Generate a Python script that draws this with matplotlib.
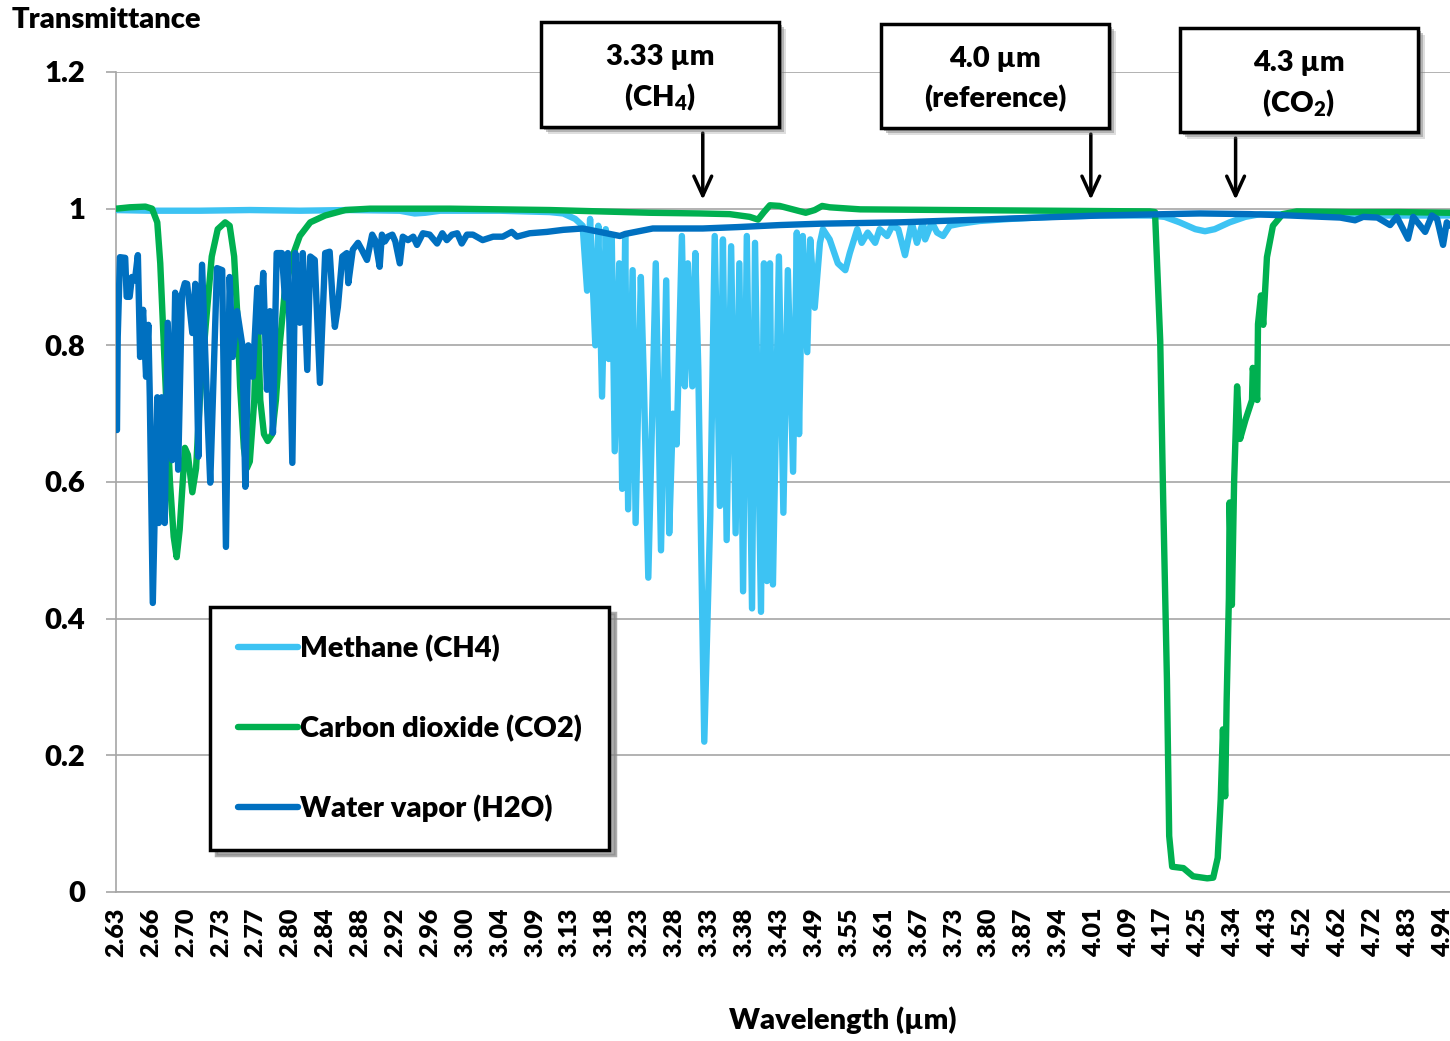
import numpy as np
import matplotlib
matplotlib.use("Agg")
import matplotlib.pyplot as plt
from matplotlib.patches import Rectangle
from matplotlib.font_manager import FontProperties

plt.rcParams['font.family'] = ['Lato', 'DejaVu Sans']
plt.rcParams['font.weight'] = 'heavy'

# ---------------- data ----------------
# x positions are wavenumbers (cm^-1); the category axis is uniform in wavenumber
tick_labels = ['2.63', '2.66', '2.70', '2.73', '2.77', '2.80', '2.84', '2.88', '2.92', '2.96',
               '3.00', '3.04', '3.09', '3.13', '3.18', '3.23', '3.28', '3.33', '3.38', '3.43',
               '3.49', '3.55', '3.61', '3.67', '3.73', '3.80', '3.87', '3.94', '4.01', '4.09',
               '4.17', '4.25', '4.34', '4.43', '4.52', '4.62', '4.72', '4.83', '4.94']
tick_wn_first = 3802.3
tick_wn_last = 2024.3
x_end_wn = 2014.7

ytick_values = [0, 0.2, 0.4, 0.6, 0.8, 1.0, 1.2]
ytick_labels = ['0', '0.2', '0.4', '0.6', '0.8', '1', '1.2']

methane_wn = [3802, 3757, 3690, 3623, 3556, 3489, 3422, 3402, 3388, 3368, 3288, 3221, 3203, 3187,
              3177, 3171, 3167, 3160, 3156, 3151, 3146, 3142, 3138, 3134, 3128, 3124, 3120, 3116,
              3110, 3106, 3099, 3095, 3089, 3079, 3072, 3065, 3061, 3056, 3051, 3044, 3040, 3036,
              3030, 3026, 3022, 3014, 3006, 3000, 2993, 2989, 2984, 2978, 2972, 2967, 2962, 2957,
              2950, 2946, 2938, 2934, 2930, 2926, 2922, 2914, 2908, 2902, 2895, 2890, 2887, 2882,
              2876, 2872, 2866, 2859, 2855, 2846, 2835, 2825, 2819, 2809, 2803, 2795, 2785, 2779,
              2769, 2762, 2754, 2745, 2736, 2729, 2721, 2718, 2709, 2702, 2694, 2685, 2671, 2645,
              2604, 2551, 2484, 2417, 2397, 2377, 2356, 2343, 2330, 2310, 2289, 2269, 2216, 2149,
              2082, 2015]
methane_t = [0.998, 0.997, 0.997, 0.998, 0.997, 0.998, 0.997, 0.993, 0.994, 0.997, 0.997, 0.995, 0.993, 0.985,
             0.975, 0.88, 0.985, 0.80, 0.975, 0.725, 0.97, 0.78, 0.96, 0.645, 0.92, 0.59, 0.96, 0.56,
             0.91, 0.54, 0.90, 0.75, 0.46, 0.92, 0.50, 0.895, 0.525, 0.70, 0.655, 0.96, 0.74, 0.92,
             0.74, 0.935, 0.765, 0.22, 0.55, 0.96, 0.565, 0.955, 0.515, 0.945, 0.525, 0.92, 0.44, 0.96,
             0.415, 0.95, 0.41, 0.92, 0.455, 0.92, 0.45, 0.93, 0.555, 0.91, 0.615, 0.965, 0.67, 0.96,
             0.79, 0.955, 0.855, 0.95, 0.97, 0.955, 0.92, 0.91, 0.935, 0.97, 0.95, 0.965, 0.95, 0.97,
             0.96, 0.975, 0.97, 0.932, 0.98, 0.95, 0.98, 0.955, 0.98, 0.965, 0.96, 0.975, 0.978, 0.982,
             0.985, 0.988, 0.99, 0.99, 0.988, 0.98, 0.97, 0.967, 0.97, 0.98, 0.988, 0.992, 0.992, 0.99,
             0.99, 0.99]

co2_wn = [3802, 3784, 3763, 3754, 3747, 3743, 3739, 3735, 3730, 3725, 3721, 3717, 3710, 3706,
          3700, 3695, 3690, 3682, 3674, 3666, 3656, 3650, 3644, 3640, 3636, 3631, 3627, 3623,
          3617, 3613, 3609, 3604, 3599, 3593, 3588, 3583, 3576, 3566, 3556, 3542, 3522, 3495,
          3462, 3355, 3221, 3154, 3087, 3020, 2980, 2953, 2942, 2934, 2926, 2913, 2892, 2878,
          2866, 2856, 2846, 2805, 2685, 2551, 2417, 2410, 2403, 2399, 2394, 2391, 2387, 2372,
          2359, 2340, 2332, 2326, 2322, 2319, 2316, 2314, 2311, 2310, 2307, 2304, 2300, 2296,
          2289, 2280, 2279, 2273, 2272, 2268, 2265, 2260, 2252, 2239, 2220, 2149, 2082, 2015]
co2_t = [1.0, 1.002, 1.003, 1.0, 0.98, 0.92, 0.82, 0.72, 0.60, 0.52, 0.49, 0.53, 0.65, 0.64,
         0.585, 0.62, 0.72, 0.83, 0.93, 0.97, 0.98, 0.975, 0.93, 0.85, 0.74, 0.65, 0.62, 0.63,
         0.72, 0.87, 0.72, 0.67, 0.66, 0.67, 0.72, 0.80, 0.88, 0.93, 0.96, 0.98, 0.99, 0.998,
         1.0, 1.0, 0.998, 0.996, 0.994, 0.993, 0.992, 0.988, 0.984, 0.995, 1.005, 1.004, 0.998, 0.994,
         0.998, 1.004, 1.002, 0.999, 0.998, 0.997, 0.996, 0.995, 0.806, 0.571, 0.31, 0.082, 0.037, 0.035,
         0.023, 0.02, 0.021, 0.05, 0.135, 0.238, 0.14, 0.28, 0.43, 0.57, 0.42, 0.60, 0.74, 0.663,
         0.69, 0.72, 0.767, 0.72, 0.831, 0.873, 0.83, 0.929, 0.975, 0.992, 0.996, 0.995, 0.995, 0.994]

water_wn = [3801, 3800, 3797, 3790, 3788, 3784, 3781, 3777, 3773, 3770, 3766, 3762, 3759, 3757,
            3753, 3747, 3745, 3741, 3737, 3733, 3727, 3723, 3719, 3714, 3710, 3707, 3700, 3696,
            3692, 3687, 3680, 3676, 3672, 3667, 3660, 3655, 3650, 3646, 3640, 3633, 3629, 3625,
            3619, 3613, 3609, 3605, 3600, 3596, 3592, 3587, 3580, 3576, 3572, 3566, 3562, 3556,
            3552, 3546, 3542, 3536, 3529, 3522, 3516, 3512, 3509, 3505, 3499, 3493, 3491, 3485,
            3478, 3473, 3466, 3459, 3455, 3449, 3446, 3442, 3438, 3432, 3428, 3422, 3418, 3411,
            3404, 3399, 3391, 3382, 3372, 3365, 3359, 3352, 3345, 3339, 3332, 3324, 3311, 3297,
            3284, 3272, 3265, 3248, 3225, 3203, 3177, 3154, 3127, 3120, 3083, 3016, 2970, 2913,
            2859, 2752, 2618, 2484, 2350, 2283, 2229, 2185, 2162, 2142, 2131, 2112, 2095, 2086,
            2071, 2064, 2048, 2039, 2032, 2024, 2019, 2015]
water_t = [0.676, 0.812, 0.929, 0.928, 0.871, 0.871, 0.90, 0.895, 0.932, 0.783, 0.852, 0.754, 0.83, 0.724,
           0.423, 0.724, 0.54, 0.724, 0.54, 0.833, 0.632, 0.877, 0.618, 0.875, 0.891, 0.89, 0.818, 0.89,
           0.637, 0.918, 0.705, 0.599, 0.739, 0.913, 0.91, 0.505, 0.90, 0.783, 0.85, 0.80, 0.593, 0.80,
           0.754, 0.884, 0.82, 0.906, 0.735, 0.85, 0.672, 0.935, 0.935, 0.87, 0.935, 0.628, 0.935, 0.833,
           0.935, 0.764, 0.93, 0.925, 0.745, 0.935, 0.937, 0.866, 0.827, 0.856, 0.93, 0.935, 0.891, 0.94,
           0.95, 0.94, 0.925, 0.962, 0.954, 0.915, 0.962, 0.952, 0.959, 0.962, 0.952, 0.92, 0.959, 0.954,
           0.959, 0.947, 0.964, 0.962, 0.949, 0.964, 0.954, 0.962, 0.964, 0.949, 0.962, 0.962, 0.954, 0.959,
           0.959, 0.966, 0.959, 0.964, 0.966, 0.969, 0.971, 0.966, 0.96, 0.963, 0.971, 0.971, 0.973, 0.976,
           0.978, 0.98, 0.985, 0.99, 0.993, 0.992, 0.99, 0.988, 0.987, 0.983, 0.988, 0.987, 0.976, 0.988,
           0.956, 0.988, 0.966, 0.99, 0.985, 0.947, 0.98, 0.975]

series_names = ['Methane (CH4)', 'Carbon dioxide (CO2)', 'Water vapor (H2O)']
series_colors = ['#3DC3F3', '#00B050', '#0070C0']

callout_titles = ['3.33 µm', '4.0 µm', '4.3 µm']
callout_subs = [r'$\mathregular{(CH_4)}$', '(reference)', r'$\mathregular{(CO_2)}$']
callout_target_wn = [3016, 2496, 2302]

assert len(methane_wn) == len(methane_t)
assert len(co2_wn) == len(co2_t)
assert len(water_wn) == len(water_t)

# ---------------- layout ----------------
W, H, DPI = 1450, 1041, 100
fig = plt.figure(figsize=(W / DPI, H / DPI), dpi=DPI)
fig.patch.set_facecolor('white')


def fx(px):
    return px / W


def fy(py):
    return 1 - py / H


ax = fig.add_axes([fx(116), fy(892), fx(1450) - fx(116), fy(72) - fy(892)])
grid_col = '#A6A6A6'

lw = 4.6
for wn, t, name, col in zip([methane_wn, co2_wn, water_wn], [methane_t, co2_t, water_t],
                            series_names, series_colors):
    ax.plot(wn, t, color=col, lw=lw, solid_joinstyle='round', solid_capstyle='round',
            label=name, zorder=3)

ax.set_xlim(tick_wn_first, x_end_wn)
ax.set_ylim(0, 1.2)

fam = ['Lato', 'DejaVu Sans']
tick_fp_x = FontProperties(family=fam, weight='heavy', size=18)
tick_fp_y = FontProperties(family=fam, weight='heavy', size=21)

tick_wn = np.linspace(tick_wn_first, tick_wn_last, len(tick_labels))
ax.set_xticks(tick_wn)
ax.set_xticklabels(tick_labels, rotation=90, fontproperties=tick_fp_x)
ax.set_xticks(tick_wn[::2], minor=True)
ax.tick_params(axis='x', which='major', length=0, pad=11)
ax.tick_params(axis='x', which='minor', length=7, width=1.2, color=grid_col, direction='out')

ax.set_yticks(ytick_values)
ax.set_yticklabels(ytick_labels, fontproperties=tick_fp_y)
ax.tick_params(axis='y', length=7, width=1.2, color=grid_col, pad=15)

ax.grid(axis='y', color=grid_col, lw=1.2)
ax.set_axisbelow(True)
for s in ['top', 'right']:
    ax.spines[s].set_visible(False)
for s in ['left', 'bottom']:
    ax.spines[s].set_color(grid_col)
    ax.spines[s].set_linewidth(1.2)

bold21 = FontProperties(family=fam, weight='heavy', size=21)

fig.text(fx(12), fy(20), 'Transmittance', ha='left', va='center', fontproperties=bold21)
fig.text(fx(843), fy(1020), 'Wavelength (µm)', ha='center', va='center', fontproperties=bold21)

# legend
leg = ax.legend(loc='upper left', bbox_to_anchor=(fx(210), fy(607)), bbox_transform=fig.transFigure,
                prop=bold21, frameon=True, fancybox=False, edgecolor='black', framealpha=1,
                borderpad=0.95, labelspacing=1.8, handlelength=2.05, handletextpad=0.08,
                borderaxespad=0,
                shadow={'ox': 4, 'oy': -4, 'color': '#8a8a8a', 'alpha': 0.7})
leg.get_frame().set_linewidth(2.5)
leg.set_zorder(10)

# callout boxes with arrows
boxes = [(541, 22, 779, 127), (881, 24, 1109, 128), (1180, 28, 1418, 132)]
for (x0, y0, x1, y1), title, sub, wn in zip(boxes, callout_titles, callout_subs, callout_target_wn):
    for off, al in [(7, 0.25), (5, 0.45), (3, 0.6)]:
        fig.add_artist(Rectangle((fx(x0 + off), fy(y1 + off)), fx(x1) - fx(x0), fy(y0) - fy(y1),
                                 transform=fig.transFigure, facecolor='#7f7f7f', edgecolor='none',
                                 alpha=al, zorder=20))
    fig.add_artist(Rectangle((fx(x0), fy(y1)), fx(x1) - fx(x0), fy(y0) - fy(y1),
                             transform=fig.transFigure, facecolor='white', edgecolor='black',
                             lw=2.5, zorder=21))
    cx = (x0 + x1) / 2
    fig.text(fx(cx), fy(y0 + 35), title, ha='center', va='center', fontproperties=bold21, zorder=22)
    fig.text(fx(cx), fy(y0 + 75), sub, ha='center', va='center', fontproperties=bold21, zorder=22)
    ax.annotate('', xy=(wn, 1.013), xycoords='data', xytext=(wn, fy(y1 + 6)),
                textcoords=('data', 'figure fraction'), annotation_clip=False,
                arrowprops=dict(arrowstyle='->,head_length=0.7,head_width=0.32', lw=2.5,
                                color='black', shrinkA=0, shrinkB=0, mutation_scale=20),
                zorder=15)

fig.savefig('out.png', dpi=DPI)
